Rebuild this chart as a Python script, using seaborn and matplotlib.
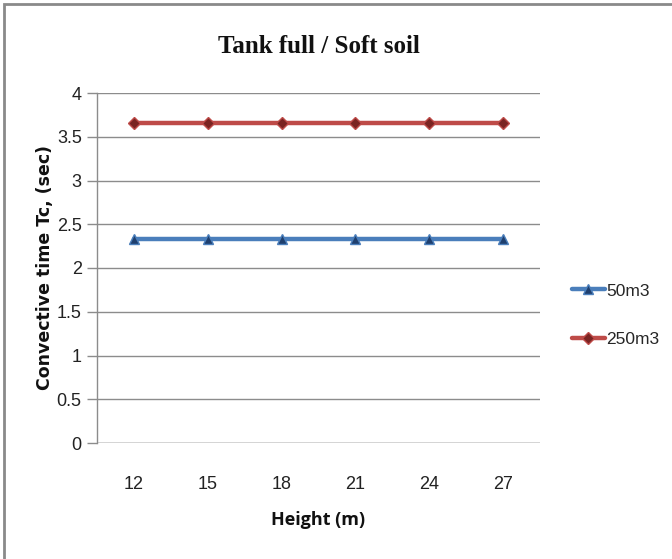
import matplotlib
matplotlib.use("Agg")
import matplotlib.pyplot as plt
import seaborn as sns
import pandas as pd
from matplotlib.patches import Rectangle
from matplotlib.lines import Line2D

heights = ["12", "15", "18", "21", "24", "27"]
tank_50 = [2.33, 2.33, 2.33, 2.33, 2.33, 2.33]
tank_250 = [3.66, 3.66, 3.66, 3.66, 3.66, 3.66]
series_names = ["50m3", "250m3"]
y_ticks = [0, 0.5, 1, 1.5, 2, 2.5, 3, 3.5, 4]
y_tick_labels = ["0", "0.5", "1", "1.5", "2", "2.5", "3", "3.5", "4"]

df = pd.DataFrame({
    "Height": heights * 2,
    "Tc": tank_50 + tank_250,
    "Tank": [series_names[0]] * len(heights) + [series_names[1]] * len(heights),
})

sns.set_style("white")
plt.rcParams["font.family"] = ["Liberation Sans", "DejaVu Sans"]

fig = plt.figure(figsize=(6.72, 5.59), dpi=100)
ax = fig.add_axes([97 / 672, 1 - 443 / 559, (540 - 97) / 672, (443 - 93) / 559])

palette = {"50m3": "#4A7EBB", "250m3": "#BE4B48"}
markers = {"50m3": "^", "250m3": "D"}
edge = {"50m3": "#1F3F6E", "250m3": "#7A2422"}
msize = {"50m3": 7, "250m3": 6}

sns.lineplot(data=df, x="Height", y="Tc", hue="Tank", style="Tank",
             palette=palette, markers=markers, dashes=False,
             linewidth=3.2, markersize=7, ax=ax, legend=False, sort=False)

for line, name in zip(ax.get_lines(), series_names):
    line.set_markerfacecolor(edge[name])
    line.set_markeredgecolor(palette[name])
    line.set_markeredgewidth(1.0)
    line.set_markersize(msize[name])

ax.set_xlim(-0.5, len(heights) - 0.5)
ax.set_ylim(0, 4)
ax.set_yticks(y_ticks)
ax.set_yticklabels(y_tick_labels)
ax.yaxis.grid(True, color="#8c8c8c", linewidth=1.0)
ax.set_axisbelow(True)
for s in ["top", "right", "bottom"]:
    ax.spines[s].set_visible(False)
ax.spines["left"].set_color("#8c8c8c")
ax.spines["left"].set_linewidth(1.0)
ax.axhline(0, color="#8c8c8c", linewidth=1.0, zorder=1)
ax.tick_params(axis="y", which="both", left=True, length=7, width=1.0,
               color="#8c8c8c", pad=4, labelsize=13, labelcolor="#222222")
ax.tick_params(axis="x", bottom=False, pad=20, labelsize=13, labelcolor="#222222")

ax.set_xlabel("Height (m)", fontsize=13, fontweight="bold", labelpad=13,
              family=["Open Sans", "DejaVu Sans"], color="#111111")
ax.set_ylabel("Convective time Tc, (sec)", fontsize=12.5, fontweight="bold",
              family=["DejaVu Sans"], labelpad=2, color="#111111")
ax.set_title("Tank full / Soft soil", fontsize=18, fontweight="bold",
             family=["Liberation Serif", "DejaVu Serif"], pad=29, color="#111111")

# legend drawn as proxy handles to the right of the plot area
handles = [Line2D([0], [0], color=palette[n], linewidth=3.2, marker=markers[n],
                  markerfacecolor=edge[n], markeredgecolor=palette[n],
                  markersize=msize[n]) for n in series_names]
fig.legend(handles, series_names, loc="center left",
           bbox_to_anchor=(556 / 672, 1 - 315 / 559), frameon=False,
           fontsize=12.5, handlelength=1.9, handletextpad=0.1, labelspacing=1.9)

fig.patches.append(Rectangle((4 / 672, -0.01), 1.1, 1 - 4 / 559 + 0.01,
                             transform=fig.transFigure, fill=False,
                             edgecolor="#8a8a8a", linewidth=2.0))

fig.savefig("out.png", dpi=100)
